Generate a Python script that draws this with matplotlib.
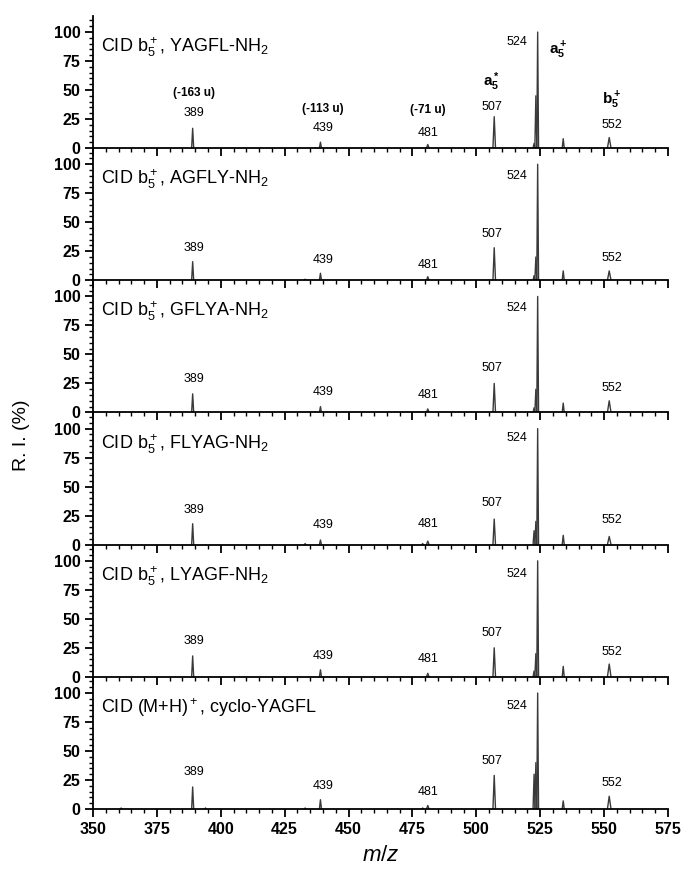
import matplotlib.pyplot as plt
from matplotlib.ticker import MultipleLocator

plt.rcParams['font.family'] = ['Liberation Sans', 'DejaVu Sans']
plt.rcParams['mathtext.fontset'] = 'custom'
plt.rcParams['mathtext.rm'] = 'Liberation Sans'
plt.rcParams['mathtext.it'] = 'Liberation Sans:italic'
plt.rcParams['mathtext.bf'] = 'Liberation Sans:bold'

# peak positions (m/z) and half widths, shared by all panels
peak_mz = [389, 439, 481, 507, 522.6, 523.3, 524, 534, 552]
peak_hw = [0.4, 0.4, 0.5, 0.5, 0.4, 0.4, 0.35, 0.4, 0.7]

titles = [r'CID b$_5^+$, YAGFL-NH$_2$',
          r'CID b$_5^+$, AGFLY-NH$_2$',
          r'CID b$_5^+$, GFLYA-NH$_2$',
          r'CID b$_5^+$, FLYAG-NH$_2$',
          r'CID b$_5^+$, LYAGF-NH$_2$',
          r'CID (M+H)$^+$, cyclo-YAGFL']

# relative intensities, one row per panel, same order as peak_mz
intens = [[17, 5, 3, 27, 4, 45, 100, 8, 9],
          [16, 6, 3, 28, 4, 20, 100, 8, 8],
          [16, 5, 3, 25, 4, 20, 100, 8, 10],
          [18, 4, 3, 22, 12, 20, 100, 8, 7],
          [18, 6, 3, 25, 5, 20, 100, 9, 11],
          [19, 8, 3, 29, 30, 40, 100, 7, 11]]

# small background bumps
minor_mz = [361, 394, 433, 479]
minor_int = [[0, 0, 0, 0], [0, 0, 1, 0], [0, 0, 0, 0],
             [0, 0, 1, 1], [0, 0, 0, 0], [1, 1, 1, 1]]

# peak label texts, x positions and heights per panel
label_txt = ['389', '439', '481', '507', '524', '552']
label_x = [389.5, 440, 481, 506, 516, 553]
label_y = [[30, 17, 13, 35, 91, 20],
           [28, 17, 13, 40, 90, 19],
           [29, 18, 15, 38, 90, 21],
           [30, 17, 18, 36, 92, 21],
           [31, 18, 15, 38, 89, 21],
           [32, 20, 15, 41, 89, 22]]

# extra annotations in the top panel
ann_txt = ['(-163 u)', '(-113 u)', '(-71 u)', r'$\mathbf{a_5^*}$', r'$\mathbf{a_5^+}$', r'$\mathbf{b_5^+}$']
ann_x = [389.5, 440, 481, 506, 532, 553]
ann_y = [47, 34, 33, 57, 84, 41]
ann_size = [8.5, 8.5, 8.5, 11, 11, 11]

W, H = 686, 871
fig = plt.figure(figsize=(W / 100, H / 100), dpi=100)

zero0 = 148
step = 132.2
left = 93 / W
width = 575 / W

axes = []
for i in range(6):
    y0 = zero0 + step * i
    ax = fig.add_axes([left, 1 - y0 / H, width, step / H])
    axes.append(ax)
    col = '#3a3a3a'
    for mz, hw, h in zip(peak_mz, peak_hw, intens[i]):
        ax.plot([mz - hw, mz, mz + hw], [0, h, 0], color=col, lw=1.0)
    for mz, h in zip(minor_mz, minor_int[i]):
        if h > 0:
            ax.plot([mz - 0.4, mz, mz + 0.4], [0, h, 0], color=col, lw=0.8)
    for t, x, y in zip(label_txt, label_x, label_y[i]):
        ax.text(x, y, t, ha='center', va='center', fontsize=9)
    ax.text(353, 87, titles[i], ha='left', va='center', fontsize=13)

    ax.set_xlim(350, 575)
    ax.set_ylim(0, 114)
    ax.spines['top'].set_visible(False)
    ax.spines['right'].set_visible(False)
    ax.spines['left'].set_linewidth(1.3)
    ax.spines['bottom'].set_linewidth(1.3)
    ax.patch.set_alpha(0)
    ax.xaxis.set_major_locator(MultipleLocator(25))
    ax.xaxis.set_minor_locator(MultipleLocator(5))
    ax.set_yticks([0, 25, 50, 75, 100])
    ax.yaxis.set_minor_locator(MultipleLocator(5))
    ax.tick_params(which='major', direction='out', length=5.5, width=1.3, labelsize=11.5)
    ax.tick_params(which='minor', direction='out', length=3, width=1.0)
    for lab in ax.get_yticklabels():
        lab.set_fontweight('bold')
    if i < 5:
        ax.tick_params(axis='x', labelbottom=False)
    else:
        for lab in ax.get_xticklabels():
            lab.set_fontweight('bold')

for t, x, y, s in zip(ann_txt, ann_x, ann_y, ann_size):
    axes[0].text(x, y, t, ha='center', va='center', fontsize=s, fontweight='bold')

fig.text(0.032, 0.50, 'R. I. (%)', rotation=90, ha='center', va='center', fontsize=14)
fig.text(0.555, 0.018, r'$m/z$', ha='center', va='center', fontsize=16)

fig.savefig('out.png', dpi=100)
